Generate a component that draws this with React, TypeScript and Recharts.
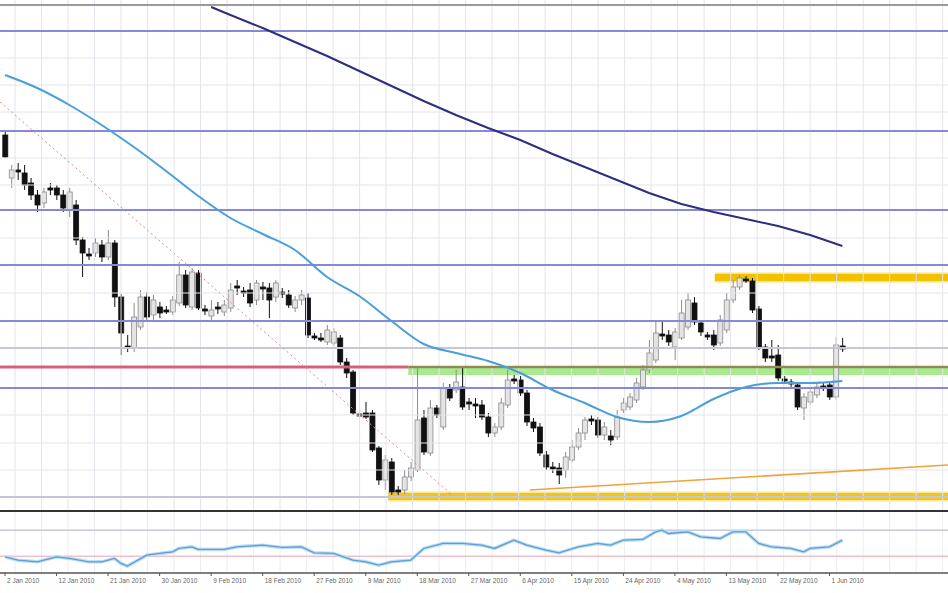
import { ComposedChart, Bar, Line, XAxis, YAxis, ReferenceLine, ReferenceArea } from 'recharts'

// daily candles, price units
const opens = [
  465, 422, 430, 427, 417, 405, 397, 412, 412, 405,
  390, 395, 360, 346, 347, 355, 343, 357, 303, 254,
  252, 273, 303, 285, 293, 290, 288, 297, 325, 293,
  327, 291, 284, 293, 288, 292, 314, 309, 310, 300,
  313, 312, 303, 308, 305, 292, 300, 302, 264, 262,
  258, 257, 262, 238, 228, 186, 187, 187, 152, 120,
  138, 110, 110, 123, 130, 182, 147, 192, 173, 212,
  210, 213, 198, 196, 195, 183, 167, 173, 195, 221,
  220, 207, 178, 173, 145, 133, 132, 130, 140, 153,
  167, 181, 180, 165, 164, 163, 190, 193, 200, 213,
  230, 240, 266, 265, 253, 262, 273, 297, 277, 265,
  265, 257, 270, 300, 313, 321, 319, 291, 253, 244,
  245, 221, 218, 215, 192, 198, 205, 214, 215, 203,
  254,
]
const highs = [
  468, 435, 437, 435, 422, 410, 412, 417, 415, 410,
  412, 400, 363, 352, 362, 360, 370, 360, 306, 265,
  297, 310, 308, 305, 298, 294, 304, 338, 330, 332,
  330, 295, 300, 298, 300, 317, 320, 313, 317, 320,
  318, 317, 320, 312, 310, 304, 310, 307, 267, 267,
  275, 272, 265, 242, 230, 190, 198, 190, 154, 145,
  142, 114, 130, 138, 232, 190, 200, 195, 217, 216,
  230, 233, 202, 202, 200, 187, 177, 202, 230, 225,
  224, 210, 182, 177, 149, 138, 137, 148, 160, 172,
  183, 185, 183, 178, 170, 190, 202, 207, 222, 235,
  260, 280, 278, 270, 272, 300, 307, 303, 280, 268,
  270, 285, 307, 320, 325, 324, 322, 294, 256, 260,
  255, 224, 221, 218, 207, 212, 217, 217, 218, 263,
  262,
]
const lows = [
  442, 412, 420, 410, 400, 388, 392, 405, 400, 388,
  383, 355, 323, 340, 343, 338, 340, 293, 245, 248,
  248, 270, 280, 280, 282, 286, 285, 294, 292, 290,
  290, 285, 280, 286, 284, 288, 305, 303, 293, 295,
  300, 282, 298, 302, 292, 288, 295, 262, 260, 258,
  255, 254, 235, 222, 185, 182, 181, 148, 115, 110,
  105, 105, 106, 119, 128, 145, 144, 182, 170, 199,
  207, 190, 190, 182, 180, 163, 163, 170, 192, 216,
  204, 174, 168, 144, 130, 127, 116, 122, 138, 150,
  160, 175, 162, 160, 155, 160, 187, 190, 197, 210,
  227, 237, 260, 254, 240, 260, 270, 275, 264, 260,
  250, 254, 267, 297, 310, 317, 287, 250, 238, 238,
  219, 216, 213, 190, 180, 195, 202, 209, 200, 200,
  248,
]
const closes = [
  443, 430, 428, 415, 405, 395, 408, 410, 405, 392,
  408, 360, 347, 344, 357, 343, 357, 303, 267, 252,
  283, 303, 283, 300, 287, 288, 300, 325, 295, 328,
  292, 289, 290, 291, 295, 310, 312, 307, 297, 317,
  311, 300, 317, 306, 295, 300, 305, 265, 262, 260,
  270, 268, 238, 227, 187, 184, 183, 150, 120, 140,
  108, 108, 123, 132, 180, 148, 192, 185, 212, 202,
  218, 193, 196, 194, 183, 167, 173, 197, 220, 219,
  207, 178, 172, 147, 133, 131, 125, 143, 153, 167,
  180, 179, 165, 173, 160, 183, 197, 203, 217, 230,
  247, 267, 264, 258, 268, 287, 300, 278, 268, 263,
  255, 280, 300, 313, 322, 319, 290, 253, 242, 242,
  222, 219, 216, 193, 203, 208, 213, 212, 203, 255,
  251,
]

// moving averages (bar index -> value)
const fastIdx = [0, 5, 10, 15, 20, 25, 30, 35, 40, 45, 50, 55, 60, 65, 70, 75, 80, 85, 90, 95, 100, 105, 110, 115, 120, 125, 130]
const fastMa = [525, 512, 495, 475, 453, 429, 404, 382, 366, 350, 323, 304, 279, 256, 247, 239, 227, 210, 197, 183, 178, 184, 201, 213, 217, 217, 219]
const slowIdx = [32, 35, 40, 45, 50, 55, 60, 65, 70, 75, 80, 85, 90, 95, 100, 105, 110, 115, 120, 125, 130]
const slowMa = [593, 585, 572, 558, 544, 529, 514, 499, 485, 472, 460, 446, 433, 420, 407, 396, 388, 381, 374, 365, 354]

// oscillator in the lower pane
const oscIdx = [0, 2, 5, 8, 10, 13, 15, 17, 18, 19, 22, 24, 26, 27, 29, 30, 34, 36, 40, 43, 46, 48, 51, 54, 56, 58, 60, 63, 65, 68, 71, 74, 76, 79, 81, 84, 86, 89, 92, 94, 96, 99, 101, 102, 103, 106, 108, 111, 113, 115, 117, 119, 122, 124, 125, 128, 130]
const oscValues = [28.9, 23.8, 21.2, 28.9, 26.5, 21.2, 21.2, 26.5, 18.8, 14.6, 31.5, 34.2, 36.6, 41.8, 44.3, 40.3, 40.3, 44.3, 46.9, 43.4, 44.3, 35.1, 34.2, 23.8, 21.2, 16.2, 21.2, 23.8, 41.8, 49.5, 49.5, 46.9, 41.8, 54.6, 46.9, 39.2, 35.1, 44.3, 49.5, 46.9, 54.6, 55.7, 67.4, 70, 64.9, 67.4, 59.7, 57.2, 67.4, 67.4, 49.5, 44.3, 41.8, 36.6, 41.8, 44.3, 54.6]
const oscLevels = [70, 30]

const tickIdx = [0, 8, 16, 24, 32, 40, 48, 56, 64, 72, 80, 88, 96, 104, 112, 120, 128]
const tickLabels = [
  '2 Jan 2010', '12 Jan 2010', '21 Jan 2010', '30 Jan 2010', '9 Feb 2010', '18 Feb 2010',
  '27 Feb 2010', '9 Mar 2010', '18 Mar 2010', '27 Mar 2010', '6 Apr 2010', '15 Apr 2010',
  '24 Apr 2010', '4 May 2010', '13 May 2010', '22 May 2010', '1 Jun 2010',
]

// drawn levels and trend lines
const blueLevels = [569, 469, 390, 335, 279, 212]
const greyLevels = [252, 103]
const redLevel = 233
const greenStart = 62.6
const greenBand = [225, 232]
const topZoneStart = 110.2
const topZone = [319, 326]
const bottomZoneStart = 59.5
const bottomZone = [100, 107]
const redTrend = [{ x: -0.78, y: 498 }, { x: 69.4, y: 105 }]
const orangeTrend = [{ x: 81.5, y: 110 }, { x: 146.4, y: 135 }]
const gridY = [542, 515, 488, 442, 415, 362, 307, 185, 157, 130]

const X_DOMAIN: [number, number] = [-0.78, 146.4]
const X_END = 146.4
const gridX = Array.from({ length: 36 }, (_, k) => (10 + 26.5 * k) / 6.44)

const candles = opens.map((open, i) => ({ i, open, high: highs[i], low: lows[i], close: closes[i] }))
const fastData = fastIdx.map((i, k) => ({ i, v: fastMa[k] }))
const slowData = slowIdx.map((i, k) => ({ i, v: slowMa[k] }))
const oscData = oscIdx.map((i, k) => ({ i, v: oscValues[k] }))

function Candle(props: any) {
  const { x, y, width, height, payload } = props
  if (!payload || height == null) return null
  const { open, close, high, low } = payload
  const ratio = height / (high - low)
  const up = close > open
  const top = y + (high - Math.max(open, close)) * ratio
  const bodyH = Math.max(1.5, Math.abs(open - close) * ratio)
  const cx = x + width / 2
  const edge = up ? '#8c8c8c' : '#111'
  return (
    <g>
      <line x1={cx} x2={cx} y1={y} y2={y + height} stroke={edge} strokeWidth={1} />
      <rect x={x} y={top} width={width} height={bodyH} fill={up ? '#e4e4e4' : '#111'} stroke={edge} strokeWidth={0.8} />
    </g>
  )
}

function DateTick(props: any) {
  const { x, y, payload } = props
  const label = tickLabels[tickIdx.indexOf(payload.value)]
  return (
    <text x={x + 2} y={y + 6} fontSize={6.5} fill="#666" fontFamily="Liberation Sans, Arial, sans-serif">
      {label}
    </text>
  )
}

export default function App() {
  return (
    <div style={{ width: 948, height: 593, background: '#fff' }}>
      <style>{'body{margin:0}'}</style>
      <ComposedChart width={948} height={512} data={candles} margin={{ top: 0, right: 0, bottom: 0, left: 0 }}>
        <XAxis type="number" dataKey="i" domain={X_DOMAIN} allowDataOverflow hide />
        <YAxis type="number" domain={[88, 600]} allowDataOverflow hide />
        {gridX.map((gx) => (
          <ReferenceLine key={'gx' + gx} x={gx} stroke="#e4e4ec" strokeWidth={1} />
        ))}
        {gridY.map((gy) => (
          <ReferenceLine key={'gy' + gy} y={gy} stroke="#e4e4ec" strokeWidth={1} />
        ))}
        <ReferenceLine y={595} stroke="#9a9a9a" strokeWidth={2} />
        <ReferenceLine y={89} stroke="#333" strokeWidth={2} />
        {greyLevels.map((v) => (
          <ReferenceLine key={'grey' + v} y={v} stroke="#c6c6da" strokeWidth={2} />
        ))}
        {blueLevels.map((v) => (
          <ReferenceLine key={'blue' + v} y={v} stroke="#8688dc" strokeWidth={2} />
        ))}
        <ReferenceLine segment={[{ x: X_DOMAIN[0], y: redLevel }, { x: greenStart, y: redLevel }]} stroke="#d9607c" strokeWidth={3} />
        <ReferenceArea x1={greenStart} x2={X_END} y1={greenBand[0]} y2={greenBand[1]} fill="#a8ea8e" fillOpacity={1} stroke="none" />
        <ReferenceLine segment={[{ x: greenStart, y: redLevel }, { x: X_END, y: redLevel }]} stroke="#8e8a52" strokeWidth={2.5} />
        <ReferenceArea x1={topZoneStart} x2={X_END} y1={topZone[0] - 1.5} y2={topZone[1] + 1.5} fill="#f9e48c" fillOpacity={1} stroke="none" />
        <ReferenceArea x1={topZoneStart} x2={X_END} y1={topZone[0]} y2={topZone[1]} fill="#f2c200" fillOpacity={1} stroke="none" />
        <ReferenceArea x1={bottomZoneStart} x2={X_END} y1={bottomZone[0] - 1.5} y2={bottomZone[1] + 1.5} fill="#f9e48c" fillOpacity={0.9} stroke="none" />
        <ReferenceArea x1={bottomZoneStart} x2={X_END} y1={bottomZone[0]} y2={bottomZone[1]} fill="#f0c000" fillOpacity={0.88} stroke="none" />
        <ReferenceLine segment={redTrend} stroke="#e08888" strokeWidth={1} strokeDasharray="2 3" />
        <ReferenceLine segment={orangeTrend} stroke="#f0a23c" strokeWidth={1.5} />
        <Line data={slowData} dataKey="v" stroke="#2e2e7e" strokeWidth={2} dot={false} activeDot={false} isAnimationActive={false} />
        <Line data={fastData} dataKey="v" stroke="#4a9fd8" strokeWidth={2} dot={false} activeDot={false} type="monotone" isAnimationActive={false} />
        <Bar dataKey={(d: any) => [d.low, d.high]} barSize={5} shape={(p: any) => <Candle {...p} />} activeBar={false} isAnimationActive={false} />
      </ComposedChart>
      <ComposedChart width={948} height={81} data={oscData} margin={{ top: 0, right: 0, bottom: 0, left: 0 }}>
        <XAxis
          type="number"
          dataKey="i"
          domain={X_DOMAIN}
          allowDataOverflow
          ticks={tickIdx}
          interval={0}
          height={20}
          tickSize={3}
          tickMargin={1}
          axisLine={{ stroke: '#555', strokeWidth: 1.5 }}
          tickLine={{ stroke: '#555' }}
          tick={(p: any) => <DateTick {...p} />}
        />
        <YAxis type="number" domain={[4, 98]} allowDataOverflow hide />
        {gridX.map((gx) => (
          <ReferenceLine key={'ogx' + gx} x={gx} stroke="#ececf2" strokeWidth={1} />
        ))}
        <ReferenceLine y={oscLevels[0]} stroke="#c8c8dc" strokeWidth={1.5} />
        <ReferenceLine y={oscLevels[1]} stroke="#efc2ca" strokeWidth={1.5} />
        <Line dataKey="v" stroke="#bcdcf2" strokeWidth={3.5} dot={false} activeDot={false} isAnimationActive={false} />
        <Line dataKey="v" stroke="#5a9fd6" strokeWidth={1.3} dot={false} activeDot={false} isAnimationActive={false} />
      </ComposedChart>
    </div>
  )
}
